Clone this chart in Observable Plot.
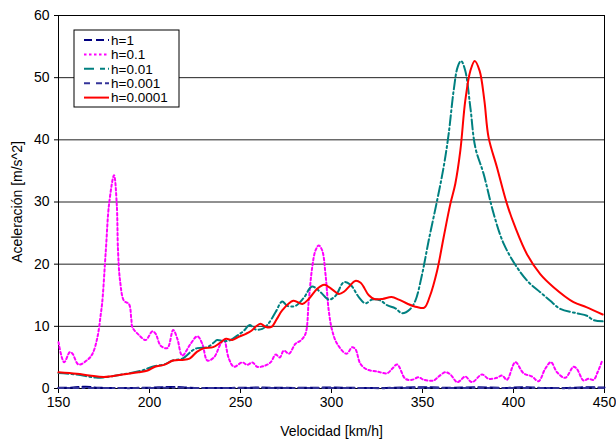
<!DOCTYPE html>
<html><head><meta charset="utf-8">
<script src="https://cdn.jsdelivr.net/npm/d3@7"></script>
<script src="https://cdn.jsdelivr.net/npm/@observablehq/plot@0.6"></script>
<style>
body{margin:0;background:#fff;}
#chart{position:relative;width:616px;height:443px;}
</style></head><body><div id="chart"></div>
<script>
const seriesNames = ["h=1","h=0.1","h=0.01","h=0.001","h=0.0001"];
const seriesColors = ["#000080","#ff00ff","#008080","#333399","#ff0000"];
const seriesDash = ["8,4","2.5,2.5","10,3,2,3","5,4,2,4",null];

const xTicks = [150,200,250,300,350,400,450];
const yTicks = [0,10,20,30,40,50,60];

// h=1
const xH1 = [150,158,165,172,185,200,213,225,245,260,280,300,315,330,350,365,380,395,405,415,430,440,450];
const yH1 = [0.12,0.15,0.3,0.12,0.1,0.12,0.25,0.1,0.1,0.15,0.1,0.15,0.1,0.1,0.2,0.12,0.2,0.1,0.22,0.1,0.1,0.2,0.15];
// h=0.001
const xH001 = [150,170,190,210,230,250,270,290,310,330,350,370,390,410,430,450];
const yH001 = [0.08,0.1,0.06,0.12,0.08,0.1,0.06,0.1,0.08,0.06,0.1,0.08,0.1,0.08,0.06,0.1];
// h=0.1
const xH01 = [150,153.1,156.2,157.7,161,165.9,168.7,171.4,173.2,174.1,176,177.8,180.5,182,182.7,183.8,186,188.7,190,190.6,194.2,197.9,201.6,203.4,206.1,209.8,213,215.3,218,222.6,226.3,229,231.8,235.4,239.1,240.9,243.6,246.4,251,253.7,256.5,259.2,262.8,266.5,269.3,271.6,273.8,276.6,280.2,283,285.7,287.5,289.4,291.2,293,294.9,296.7,298.5,300.4,303.1,308.2,311.4,313.2,315.9,319.6,325.1,330.6,333.3,336.1,340.6,344.3,347.9,350.7,356.1,358.9,362.6,365.3,369,370.8,373.5,377.2,382.7,386.3,390.9,393.7,396.4,401,405.5,410.1,413.8,417.4,420.6,423.9,428.4,433,434.8,438.5,441.2,444,446.2,448.5];
const yH01 = [7.45,4.23,5.84,5.6,3.86,4.6,5.6,8.25,11.9,14.1,22.2,29.7,34.3,29.7,22.2,17.4,14.1,13.6,11.2,9.86,8.6,7.8,9.2,8.8,6.9,6.5,9.4,8.0,5.3,7.2,8.4,7.2,4.5,5.0,7.2,7.9,4.8,3.5,4.2,3.8,4.2,3.5,3.6,4.2,5.45,5.0,6.1,5.6,7.2,7.7,8.8,14.1,19.5,22.2,23.0,22.2,18.4,12.5,9.3,7.2,5.6,6.65,6.3,3.96,3.05,2.73,2.46,3.16,3.86,1.56,1.4,1.8,1.4,1.29,1.93,2.62,2.25,1.02,1.29,1.93,1.02,2.25,1.56,1.72,2.1,1.4,4.23,2.46,1.93,1.18,3.16,4.23,2.62,1.72,3.5,3.16,1.29,1.56,1.4,2.62,4.3];
// h=0.01
const xH0_01 = [150,160,170.5,175,185,196,201.6,209,212.6,218,223.5,226.3,231.8,235.4,237.2,240.9,244.5,248.2,251.9,255,258.3,262,265,269.3,272.9,275.7,280.2,284.8,289.3,293.9,298.5,302.2,306.8,310.4,315,318.6,322.3,326.9,330.5,335.1,338.8,343.3,346.1,349.8,353.4,358,361.6,364.4,367.1,369.3,371.2,373.5,376.3,379,383.6,389.1,394.6,401.9,408.3,414.7,420.2,425.7,434.8,440.3,444,449];
const yH0_01 = [2.5,2.25,1.75,1.8,2.25,2.9,3.5,3.96,4.5,4.8,6.1,6.5,6.65,7.4,7.8,7.6,7.8,8.5,9.3,10.2,9.5,9.6,10.3,12.3,14.0,13.3,13.3,14.6,16.4,15.5,14.3,14.9,17.1,16.7,14.7,13.7,14.3,14.15,13.4,12.9,12.1,12.8,14.15,18.4,23.8,30.2,35.6,41.0,47.9,51.7,52.7,51.1,45.2,38.8,34.5,28.1,23.3,19.5,17.1,15.5,14.1,12.8,12.1,11.7,11.0,10.8];
// h=0.0001
const xH0_0001 = [150,160,167,175,185,194,199,203,208,213,218,222,226,230,235,239,242,245.5,249,253,256,259,261,264,267,270,273,279,284,287.5,292,296,300.5,304,307,310,313,316,320.5,323.5,328,333,337,342,347,351,354,358,361.6,365.3,368,370.8,373.5,376.3,378.7,381.4,384,386.3,390.9,396.4,401,407.4,414.7,422,433,440,449];
const yH0_0001 = [2.6,2.36,2.1,1.85,2.25,2.6,2.9,3.5,3.8,4.5,4.6,4.8,5.9,6.5,6.65,7.4,8.0,7.8,8.3,8.8,9.3,10.1,10.4,9.9,9.9,11.2,12.6,14.1,13.6,14.4,16.0,16.7,15.9,15.2,15.6,16.5,17.3,17.0,15.0,14.4,14.4,14.7,14.3,13.6,13.1,13.0,14.8,18.9,24.3,29.7,32.9,38.3,46.3,51.1,52.7,51.1,46.3,40.4,35.6,29.7,25.9,21.6,18.4,16.3,13.9,13.1,11.9];

const xs = [xH1, xH01, xH0_01, xH001, xH0_0001];
const ys = [yH1, yH01, yH0_01, yH001, yH0_0001];

const lineMarks = seriesNames.map((name, i) => {
  const rows = xs[i].map((x, j) => ({x, y: ys[i][j]}));
  const opts = {x: "x", y: "y", stroke: seriesColors[i], strokeWidth: 2, curve: "catmull-rom"};
  if (seriesDash[i]) opts.strokeDasharray = seriesDash[i];
  return Plot.line(rows, opts);
});

const plot = Plot.plot({
  width: 616, height: 443,
  marginLeft: 58, marginRight: 12, marginTop: 15, marginBottom: 55,
  style: {fontFamily: "'Liberation Sans', Arial, sans-serif", fontSize: "14px", color: "#000", background: "#fff"},
  x: {domain: [150, 450]},
  y: {domain: [0, 60]},
  marks: [
    Plot.gridY(yTicks.slice(1, -1), {stroke: "#222", strokeOpacity: 1}),
    Plot.frame({stroke: "#000"}),
    Plot.axisX({ticks: xTicks, tickSize: 5, tickPadding: 4, fontSize: 14, label: "Velocidad [km/h]", labelAnchor: "center", labelArrow: "none", labelOffset: 47}),
    Plot.axisY({ticks: yTicks, tickSize: 4, tickPadding: 5, fontSize: 14, label: "Aceleración [m/s^2]", labelAnchor: "center", labelArrow: "none", labelOffset: 46}),
    ...lineMarks
  ]
});
document.getElementById("chart").appendChild(plot);

// legend box
const svg = d3.select(plot);
const lg = svg.append("g").attr("transform", "translate(74,30)");
lg.append("rect").attr("width", 105).attr("height", 77).attr("fill", "#fff").attr("stroke", "#000").attr("stroke-width", 1);
seriesNames.forEach((name, i) => {
  const cy = 10 + i * 14.4;
  const l = lg.append("line").attr("x1", 10).attr("x2", 35).attr("y1", cy).attr("y2", cy)
    .attr("stroke", seriesColors[i]).attr("stroke-width", 2);
  if (seriesDash[i]) l.attr("stroke-dasharray", i === 2 ? "10,6,5,3" : (i === 3 ? "6,6,6,3" : seriesDash[i]));
  lg.append("text").attr("x", 37).attr("y", cy).attr("dy", "0.36em").attr("text-anchor", "start")
    .attr("font-family", "'Liberation Sans', Arial, sans-serif").attr("font-size", 13.5).attr("fill", "#000").text(name);
});
</script></body></html>
